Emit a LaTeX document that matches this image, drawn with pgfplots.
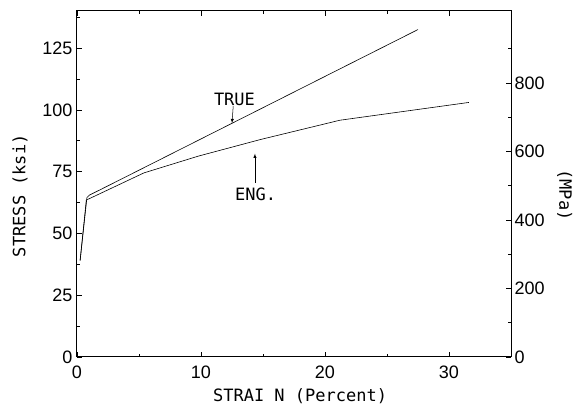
\documentclass[border=0pt]{standalone}
\usepackage{pgfplots}
\pgfplotsset{compat=1.18}
\usepackage{fontspec}
\setmainfont{Liberation Sans}
\newfontfamily\labfont{DejaVu Sans Mono}

% strain (%) vs stress (ksi)
\pgfplotstableread{
x y
0.25 39
0.75 63.5
1.6 65.5
5.4 74.5
9.8 81.3
14.8 88
21.2 95.8
31.6 103
}\engdata
\pgfplotstableread{
x y
0.25 39
0.8 64.5
1.0 65.5
2.0 68
27.5 132.5
}\truedata

\begin{document}
\begin{tikzpicture}[font=\fontsize{18}{20}\selectfont]
    \pgfplotsset{
        every axis/.style={
            scale only axis,
            width=434pt, height=346pt,
            xmin=0, xmax=35,
            tick align=inside,
            major tick length=5pt,
            minor tick length=3pt,
            /pgf/number format/assume math mode=true,
            every tick/.style={black, line width=0.5pt},
            axis line style={line width=1pt},
            label style={font=\labfont\fontsize{17}{19}\selectfont},
        }
    }
    \begin{axis}[
        name=main,
        ymin=0, ymax=140,
        xtick={0,10,20,30},
        minor xtick={5,15,25},
        ytick={0,25,50,75,100,125},
        minor ytick={12.5,37.5,62.5,87.5,112.5,137.5},
        ytick pos=left,
        xtick pos=both,
        xticklabel style={yshift=-5pt},
        yticklabel style={xshift=-1pt},
        xlabel={STRAI N (Percent)},
        ylabel={STRESS (ksi)},
        xlabel style={at={(axis description cs:0.514,0)}, anchor=base, yshift=-44.7pt},
        ylabel style={at={(axis description cs:-0.131,0.466)}, anchor=center},
    ]
        \addplot[black, line width=0.6pt] table {\truedata};
        \addplot[black, line width=0.6pt] table {\engdata};
        \node[font=\labfont\fontsize{17}{19}\selectfont] at (axis cs:12.7,104.3) {TRUE};
        \draw[-latex, line width=0.5pt] (axis cs:12.6,101.6) -- (axis cs:12.5,94.6);
        \node[font=\labfont\fontsize{17}{19}\selectfont] at (axis cs:14.4,66) {ENG.};
        \draw[-latex, line width=0.5pt] (axis cs:14.35,70.5) -- (axis cs:14.35,82.3);
    \end{axis}
    \begin{axis}[
        ymin=0, ymax=1010,
        axis x line=none,
        axis y line*=right,
        ytick={0,200,400,600,800},
        minor ytick={100,300,500,700,900},
        ylabel={(MPa)},
        ylabel style={at={(axis description cs:1.124,0.468)}, anchor=center, rotate=-180},
    ]
    \end{axis}
    \pgfresetboundingbox
    \path (main.south west) ++(-77pt,-52pt) coordinate (bl);
    \path (main.north east) ++(67pt,11pt) coordinate (tr);
    \path[use as bounding box] (bl) rectangle (tr);
\end{tikzpicture}
\end{document}
